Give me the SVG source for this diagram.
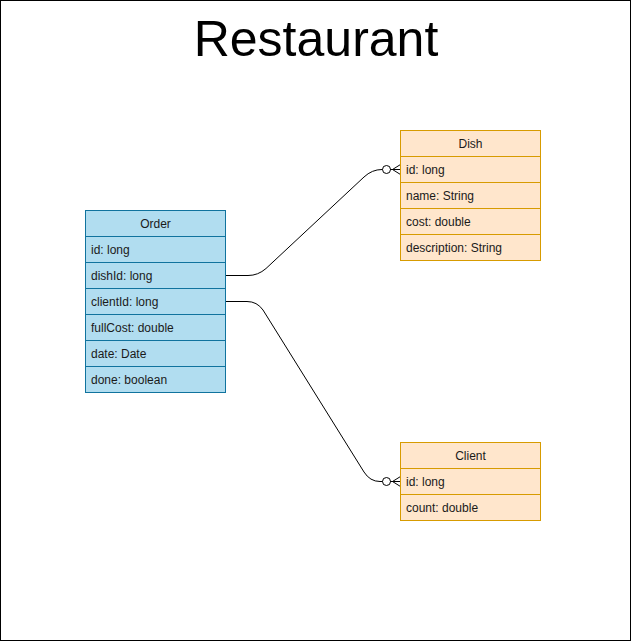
<svg xmlns="http://www.w3.org/2000/svg" width="631" height="641" viewBox="0 0 631 641">
<style>
text{font-family:"Liberation Sans",Arial,Helvetica,sans-serif;fill:#1a1a1a}
.row{font-size:12px}
.hd{font-size:12px;text-anchor:middle}
.blue{fill:#b1ddf0;stroke:#10739e;stroke-width:1}
.orange{fill:#ffe6cc;stroke:#d79b00;stroke-width:1}
.edge{fill:none;stroke:#000;stroke-width:1}
</style>
<defs>
<marker id="zeroMany" markerUnits="userSpaceOnUse" markerWidth="20" markerHeight="14" viewBox="0 0 20 14" refX="20" refY="7" orient="auto">
<circle cx="6" cy="7" r="4" fill="#fff" stroke="#000" stroke-width="1"/>
<path d="M10,7 L20,7 M12,7 L20,2 M12,7 L20,12" fill="none" stroke="#000" stroke-width="1"/>
</marker>
</defs>
<rect x="0.5" y="0.5" width="630" height="640" fill="#fff" stroke="#000"/>
<text x="316" y="56" text-anchor="middle" style="font-size:50px;fill:#000">Restaurant</text>

<g id="connectors">
<path class="edge" d="M225.5,275.5 L248,275.5 Q258,275.5 266,268.5 L364,177 Q372,169.5 382,169.5 L400.5,169.5" marker-end="url(#zeroMany)"/>
<path class="edge" d="M225.5,301.5 L247,301.5 Q257,301.5 263,310 L364,472 Q370,481.5 380,481.5 L400.5,481.5" marker-end="url(#zeroMany)"/>
</g>

<g id="Order">
<rect class="blue" x="85.5" y="210.5" width="140" height="182"/>
<path d="M85.5,236.5h140M85.5,262.5h140M85.5,288.5h140M85.5,314.5h140M85.5,340.5h140M85.5,366.5h140" stroke="#10739e" fill="none"/>
<text class="hd" x="155.5" y="228">Order</text>
<text class="row" x="91" y="254">id: long</text>
<text class="row" x="91" y="280">dishId: long</text>
<text class="row" x="91" y="306">clientId: long</text>
<text class="row" x="91" y="332">fullCost: double</text>
<text class="row" x="91" y="358">date: Date</text>
<text class="row" x="91" y="384">done: boolean</text>
</g>

<g id="Dish">
<rect class="orange" x="400.5" y="130.5" width="140" height="130"/>
<path d="M400.5,156.5h140M400.5,182.5h140M400.5,208.5h140M400.5,234.5h140" stroke="#d79b00" fill="none"/>
<text class="hd" x="470.5" y="148">Dish</text>
<text class="row" x="406" y="174">id: long</text>
<text class="row" x="406" y="200">name: String</text>
<text class="row" x="406" y="226">cost: double</text>
<text class="row" x="406" y="252">description: String</text>
</g>

<g id="Client">
<rect class="orange" x="400.5" y="442.5" width="140" height="78"/>
<path d="M400.5,468.5h140M400.5,494.5h140" stroke="#d79b00" fill="none"/>
<text class="hd" x="470.5" y="460">Client</text>
<text class="row" x="406" y="486">id: long</text>
<text class="row" x="406" y="512">count: double</text>
</g>
</svg>
